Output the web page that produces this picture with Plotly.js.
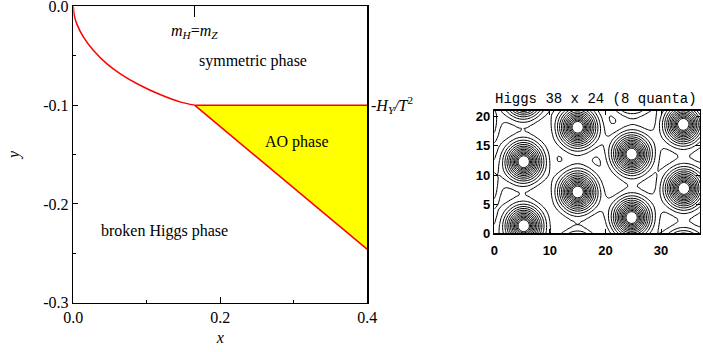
<!DOCTYPE html>
<html>
<head>
<meta charset="utf-8">
<script src="https://cdn.plot.ly/plotly-3.0.1.min.js"></script>
<style>html,body{margin:0;padding:0;background:#fff;}#chart{width:703px;height:352px;}</style>
</head>
<body>
<div id="chart"></div>
<script>
// ---------- phase diagram data ----------
var boundaryX = [0, 0.0012, 0.0046, 0.0136, 0.0272, 0.0454, 0.0635, 0.0907, 0.118, 0.145, 0.165];
var boundaryY = [0, -0.009, -0.0175, -0.031, -0.0445, -0.058, -0.068, -0.0799, -0.0893, -0.0967, -0.1];
var aoX = [0.4, 0.165, 0.4];
var aoY = [-0.1, -0.1, -0.246];
var hYValue = -0.1;
var mhmzX = 0.165;
var xTickVals = [0, 0.2, 0.4];
var xTickText = ["0.0", "0.2", "0.4"];
var yTickVals = [0, -0.1, -0.2, -0.3];
var yTickText = ["0.0", "-0.1", "-0.2", "-0.3"];
var labelText = ["<i>m</i><sub><i>H</i></sub>=<i>m</i><sub><i>Z</i></sub>", "symmetric phase", "AO phase", "broken Higgs phase"];
var labelX = [0.165, 0.244, 0.304, 0.1234];
var labelY = [-0.025, -0.0556, -0.1375, -0.2275];

// ---------- vortex lattice data (Higgs 38 x 24, 8 quanta) ----------
var latticeNx = 38;
var latticeNy = 22;
var vortexX = [5.3, 5.3, 15.0, 15.0, 24.7, 24.7, 34.0, 34.1];
var vortexY = [1.3, 12.3, 7.1, 18.2, 2.7, 13.6, 18.7, 7.7];
var coreSize = 5.0;
var gridStep = 0.5;

var gx = [], gy = [], gz = [];
for (var xi = 0; xi <= 37 + 1e-9; xi += gridStep) gx.push(xi);
for (var yi = 0; yi <= 21 + 1e-9; yi += gridStep) gy.push(yi);
function tanh(t) { var e = Math.exp(2 * t); return (e - 1) / (e + 1); }
for (var j = 0; j < gy.length; j++) {
  var row = [];
  for (var i = 0; i < gx.length; i++) {
    var v = 1;
    for (var k = 0; k < vortexX.length; k++) {
      for (var a = -1; a <= 1; a++) {
        for (var b = -1; b <= 1; b++) {
          var dx = gx[i] - (vortexX[k] + a * latticeNx);
          var dy = gy[j] - (vortexY[k] + b * latticeNy);
          v *= tanh(Math.sqrt(dx * dx + dy * dy) / coreSize);
        }
      }
    }
    row.push(v);
  }
  gz.push(row);
}

var serif = "Liberation Serif, Times New Roman, serif";

var traces = [
  {x: aoX.concat([aoX[0]]), y: aoY.concat([aoY[0]]), type: "scatter", mode: "lines",
   fill: "toself", fillcolor: "#ffff00", line: {width: 0}, hoverinfo: "skip", xaxis: "x", yaxis: "y"},
  {x: boundaryX, y: boundaryY, type: "scatter", mode: "lines", line: {color: "#ff0000", width: 1.5, shape: "spline"},
   xaxis: "x", yaxis: "y"},
  {x: aoX, y: aoY, type: "scatter", mode: "lines", line: {color: "#ff0000", width: 1.5}, xaxis: "x", yaxis: "y"},
  {x: [mhmzX], y: [hYValue], type: "scatter", mode: "markers", marker: {opacity: 0}, xaxis: "x3", yaxis: "y", hoverinfo: "skip"},
  {x: gx, y: gy, z: gz, type: "contour", xaxis: "x2", yaxis: "y2", showscale: false,
   colorscale: [[0, "#000"], [1, "#000"]],
   contours: {coloring: "lines", start: 0.17, end: 0.7, size: 0.033},
   line: {width: 1, smoothing: 1}}
];

var annotations = [];
for (var n = 0; n < labelText.length; n++) {
  annotations.push({x: labelX[n], y: labelY[n], xref: "x", yref: "y", text: labelText[n], showarrow: false,
    font: {family: serif, size: 16, color: "#000"}, xanchor: "center", yanchor: "middle"});
}
annotations.push({x: 0.4, y: hYValue, xref: "x", yref: "y", xanchor: "left", yanchor: "middle", xshift: 2,
  text: "-<i>H</i><sub><i>Y</i></sub><i>/T</i><sup>2</sup>", showarrow: false, font: {family: serif, size: 16, color: "#000"}});
annotations.push({x: 0.848, y: 0.7188, xref: "paper", yref: "paper", xanchor: "center", yanchor: "middle",
  text: "Higgs 38 x 24 (8 quanta)", showarrow: false, font: {family: "Liberation Mono, Courier New, monospace", size: 14, color: "#000"}});

var layout = {
  width: 703, height: 352,
  margin: {l: 0, r: 0, t: 0, b: 0},
  paper_bgcolor: "#fff", plot_bgcolor: "rgba(0,0,0,0)",
  showlegend: false,
  xaxis: {domain: [0.1043, 0.5225], range: [0, 0.4], anchor: "y",
    tickvals: xTickVals, ticktext: xTickText, ticks: "inside", ticklen: 6, tickcolor: "#000",
    minor: {dtick: 0.1, ticks: "inside", ticklen: 3, tickcolor: "#000", tick0: 0},
    showline: true, linecolor: "#000", linewidth: 1.5, mirror: true, showgrid: false, zeroline: false,
    tickfont: {family: serif, size: 16, color: "#000"}, ticklabeloverflow: "allow",
    title: {text: "<i>x</i>", font: {family: serif, size: 16, color: "#000"}, standoff: 6}},
  yaxis: {domain: [0.140, 0.982], range: [-0.3, 0], anchor: "x",
    tickvals: yTickVals, ticktext: yTickText, ticks: "inside", ticklen: 5, tickcolor: "#000",
    minor: {dtick: 0.05, ticks: "inside", ticklen: 3, tickcolor: "#000", tick0: 0},
    showline: true, linecolor: "#000", linewidth: 1.5, mirror: true, showgrid: false, zeroline: false,
    tickfont: {family: serif, size: 16, color: "#000"}, ticklabeloverflow: "allow",
    title: {text: "<i>y</i>", font: {family: serif, size: 16, color: "#000"}, standoff: 19}},
  xaxis3: {overlaying: "x", side: "top", range: [0, 0.4], anchor: "y", tickvals: [mhmzX],
    ticks: "inside", ticklen: 11, tickcolor: "#000", tickwidth: 1, showticklabels: false,
    showline: false, showgrid: false, zeroline: false},
  xaxis2: {domain: [0.7031, 0.9957], range: [0, 37], anchor: "y2",
    tickvals: [0, 10, 20, 30], ticks: "inside", ticklen: 4, tickcolor: "#000",
    showline: true, linecolor: "#000", linewidth: 1.5, mirror: "ticks", showgrid: false, zeroline: false,
    tickfont: {family: "Liberation Sans, Arial, sans-serif", size: 13, color: "#000", weight: "bold"},
    ticklabelstandoff: 5, ticklabeloverflow: "allow"},
  yaxis2: {domain: [0.3372, 0.6847], range: [0, 21], anchor: "x2",
    tickvals: [0, 5, 10, 15, 20], ticks: "inside", ticklen: 4, tickcolor: "#000",
    showline: true, linecolor: "#000", linewidth: 1.5, mirror: "ticks", showgrid: false, zeroline: false,
    tickfont: {family: "Liberation Sans, Arial, sans-serif", size: 13, color: "#000", weight: "bold"},
    ticklabeloverflow: "allow"},
  annotations: annotations
};

Plotly.newPlot("chart", traces, layout, {displayModeBar: false, staticPlot: true});
</script>
</body>
</html>
